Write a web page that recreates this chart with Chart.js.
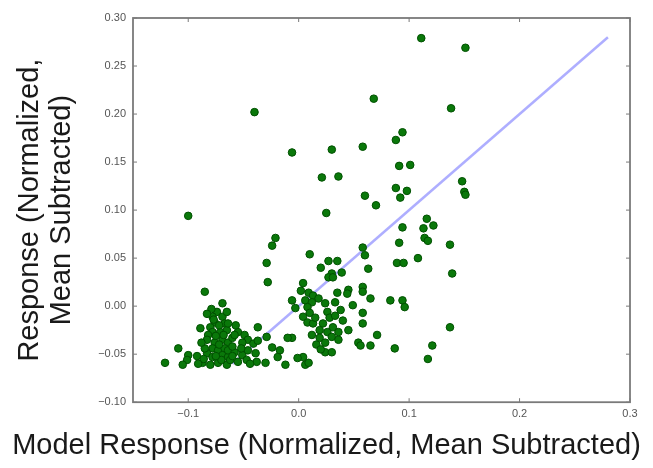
<!DOCTYPE html>
<html>
<head>
<meta charset="utf-8">
<script src="https://cdn.jsdelivr.net/npm/chart.js@4/dist/chart.umd.min.js"></script>
<style>
  html, body { margin: 0; padding: 0; background: #fff; }
  #wrap { width: 653px; height: 468px; }
</style>
</head>
<body>
<div id="wrap"><canvas id="scatterChart"></canvas></div>
<script>
const modelResp = [
  0.111, 0.151, 0.068, -0.040, 0.138, 0.094, 0.088, -0.006, 0.030, 0.058,
  0.091, 0.101, 0.021, 0.036, 0.088, 0.098, 0.092, 0.060, 0.070, 0.025,
  -0.100, 0.148, 0.150, 0.151, 0.094, 0.116, 0.113, 0.122, 0.114, 0.117,
  0.091, 0.137, -0.021, -0.024, -0.029, -0.028,
  0.010, 0.027, 0.035, 0.020, 0.039, 0.030, 0.027, 0.031, 0.058, 0.060,
  0.063, 0.108, 0.089, 0.095, 0.139,
  0.004, 0.009, 0.013, 0.006, 0.012, 0.008, 0.010, 0.004, 0.008, 0.013,
  0.024, 0.026, 0.035, 0.033, 0.045, 0.044, 0.038, 0.049, 0.058, 0.058,
  0.058, 0.058, 0.022, 0.019, 0.026, 0.031, 0.019, 0.024, 0.030, 0.036,
  0.036, 0.054, 0.056, 0.024, 0.030, 0.004, 0.006, 0.009, -0.006, -0.006,
  -0.003, -0.001, -0.012, -0.010,
  0.065, 0.083, 0.094, 0.096, 0.071, 0.065, 0.087, 0.121, 0.117, 0.137,
  -0.085, -0.069, -0.074, -0.078, -0.069, -0.076, -0.067, -0.089, -0.080, -0.078,
  -0.082, -0.071, -0.065, -0.083, -0.076, -0.069, -0.064, -0.078, -0.073, -0.067,
  -0.109, -0.083, -0.078, -0.069, -0.064, -0.100, -0.101, -0.105, -0.121, -0.087,
  -0.080, -0.073, -0.065, -0.065, -0.064, -0.055, -0.049, -0.046, -0.051, -0.037,
  -0.060, -0.041, -0.029, -0.064, -0.058, -0.051, -0.046, -0.039, -0.024, -0.017,
  -0.019, -0.062, -0.055, -0.047, -0.038, -0.030, -0.037,
  -0.072, -0.060, -0.070, -0.085, -0.075, -0.092, -0.058, -0.079, -0.088, -0.075,
  -0.083, -0.072, -0.086, -0.060, -0.052, -0.044, -0.091, -0.068, -0.057, -0.077,
  0.015, 0.018, 0.028, 0.040, 0.016, 0.002, 0.020, 0.045, 0.012, 0.033
];
const measuredResp = [
  0.279, 0.269, 0.216, 0.202, 0.206, 0.181, 0.173, 0.160, 0.163, 0.166,
  0.146, 0.147, 0.134, 0.135, 0.123, 0.120, 0.113, 0.115, 0.105, 0.097,
  0.094, 0.130, 0.119, 0.116, 0.082, 0.091, 0.081, 0.084, 0.071, 0.068,
  0.066, 0.064, 0.071, 0.063, 0.045, 0.025,
  0.054, 0.047, 0.047, 0.040, 0.035, 0.034, 0.030, 0.030, 0.061, 0.053,
  0.039, 0.050, 0.045, 0.045, 0.034,
  0.024, 0.014, 0.011, 0.006, 0.004, -0.001, -0.007, -0.011, -0.017, -0.018,
  0.003, -0.006, 0.014, 0.004, 0.017, 0.013, -0.004, 0.001, 0.020, 0.015,
  -0.007, -0.018, -0.018, -0.025, -0.027, -0.022, -0.033, -0.038, -0.032, -0.035,
  -0.027, -0.038, -0.041, -0.048, -0.048, -0.053, -0.061, -0.059, -0.033, 0.006,
  -0.002, -0.054, -0.061, -0.033,
  0.008, 0.006, 0.006, -0.001, -0.030, -0.041, -0.044, -0.041, -0.055, -0.022,
  0.015, 0.003, -0.006, -0.011, -0.011, -0.017, -0.018, -0.023, -0.022, -0.027,
  -0.030, -0.027, -0.025, -0.035, -0.038, -0.035, -0.038, -0.044, -0.046, -0.044,
  -0.044, -0.049, -0.053, -0.051, -0.053, -0.051, -0.056, -0.061, -0.059, -0.059,
  -0.061, -0.059, -0.061, -0.006, -0.018, -0.027, -0.030, -0.035, -0.038, -0.022,
  -0.033, -0.039, -0.032, -0.046, -0.048, -0.051, -0.046, -0.049, -0.043, -0.046,
  -0.053, -0.056, -0.058, -0.056, -0.058, -0.059, -0.036,
  -0.020, -0.042, -0.056, -0.044, -0.031, -0.052, -0.030, -0.003, -0.038, -0.052,
  -0.008, -0.040, -0.055, -0.052, -0.044, -0.060, -0.060, -0.030, -0.020, -0.014,
  -0.012, 0.008, -0.012, -0.015, -0.040, 0.016, -0.045, -0.025, -0.030, -0.010
];

// identity line y = x over the response range
const fitLineX = [-0.06, 0.28];
const fitLineY = [-0.06, 0.28];

// axis ticks
const xTickValues = [-0.1, 0.0, 0.1, 0.2, 0.3];
const xTickLabels = ['\u22120.1', '0.0', '0.1', '0.2', '0.3'];
const yTickValues = [-0.10, -0.05, 0.00, 0.05, 0.10, 0.15, 0.20, 0.25, 0.30];
const yTickLabels = ['\u22120.10', '\u22120.05', '0.00', '0.05', '0.10', '0.15', '0.20', '0.25', '0.30'];

const xTitle = 'Model Response (Normalized, Mean Subtracted)';
const yTitle = ['Response (Normalized,', 'Mean Subtracted)'];

const points = modelResp.map((x, i) => ({ x: x, y: measuredResp[i] }));
const linePts = fitLineX.map((x, i) => ({ x: x, y: fitLineY[i] }));

// box around the plot and small inward ticks, matplotlib style
const frame = {
  id: 'frame',
  afterDraw(chart) {
    const c = chart.ctx;
    const a = chart.chartArea;
    const xs = chart.scales.x, ys = chart.scales.y;
    c.save();
    c.strokeStyle = '#7a7a7a';
    c.lineWidth = 1.8;
    c.strokeRect(a.left, a.top, a.right - a.left, a.bottom - a.top);
    c.lineWidth = 1;
    c.beginPath();
    xTickValues.forEach(v => {
      const px = xs.getPixelForValue(v);
      c.moveTo(px, a.bottom); c.lineTo(px, a.bottom - 4);
      c.moveTo(px, a.top); c.lineTo(px, a.top + 4);
    });
    yTickValues.forEach(v => {
      const py = ys.getPixelForValue(v);
      c.moveTo(a.left, py); c.lineTo(a.left + 4, py);
      c.moveTo(a.right, py); c.lineTo(a.right - 4, py);
    });
    c.stroke();
    c.restore();
  }
};

const ctx = document.getElementById('scatterChart');

new Chart(ctx, {
  type: 'scatter',
  data: {
    datasets: [
      {
        label: 'responses',
        data: points,
        backgroundColor: '#0a780a',
        borderColor: '#005000',
        borderWidth: 1,
        pointRadius: 3.8,
        order: 1
      },
      {
        type: 'line',
        label: 'identity',
        data: linePts,
        borderColor: 'rgba(120,120,255,0.6)',
        borderWidth: 2.5,
        pointRadius: 0,
        fill: false,
        order: 2
      }
    ]
  },
  options: {
    responsive: true,
    maintainAspectRatio: false,
    animation: false,
    layout: { padding: { left: 0, right: 0, top: 18, bottom: 0 } },
    plugins: {
      legend: { display: false },
      tooltip: { enabled: false },
      title: {
        display: true,
        position: 'bottom',
        text: xTitle,
        color: '#1a1a1a',
        font: { family: 'Liberation Sans', size: 29, weight: 'normal' },
        padding: { top: 0, bottom: 5 }
      }
    },
    scales: {
      x: {
        type: 'linear',
        min: -0.15,
        max: 0.30,
        afterBuildTicks: s => { s.ticks = xTickValues.map(v => ({ value: v })); },
        afterFit: s => { s.height = 26; },
        grid: { display: false, drawTicks: false },
        border: { display: false },
        ticks: {
          padding: 5,
          color: '#555',
          font: { family: 'Liberation Sans', size: 11 },
          maxRotation: 0,
          callback: v => xTickLabels[xTickValues.findIndex(t => Math.abs(t - v) < 1e-9)]
        }
      },
      y: {
        type: 'linear',
        min: -0.10,
        max: 0.30,
        afterBuildTicks: s => { s.ticks = yTickValues.map(v => ({ value: v })); },
        afterFit: s => { s.width = 133; },
        grid: { display: false, drawTicks: false },
        border: { display: false },
        ticks: {
          padding: 7,
          color: '#555',
          font: { family: 'Liberation Sans', size: 11 },
          callback: v => yTickLabels[yTickValues.findIndex(t => Math.abs(t - v) < 1e-9)]
        },
        title: {
          display: true,
          text: yTitle,
          color: '#1a1a1a',
          font: { family: 'Liberation Sans', size: 29, weight: 'normal', lineHeight: 1.1 },
          padding: { top: 14, bottom: 0 }
        }
      },
      // empty strip on the right so the bottom title centres on the full width
      yRight: {
        position: 'right',
        display: true,
        min: 0,
        max: 1,
        afterFit: s => { s.width = 23; },
        grid: { display: false, drawTicks: false },
        border: { display: false },
        ticks: { display: false }
      }
    }
  },
  plugins: [frame]
});
</script>
</body>
</html>
